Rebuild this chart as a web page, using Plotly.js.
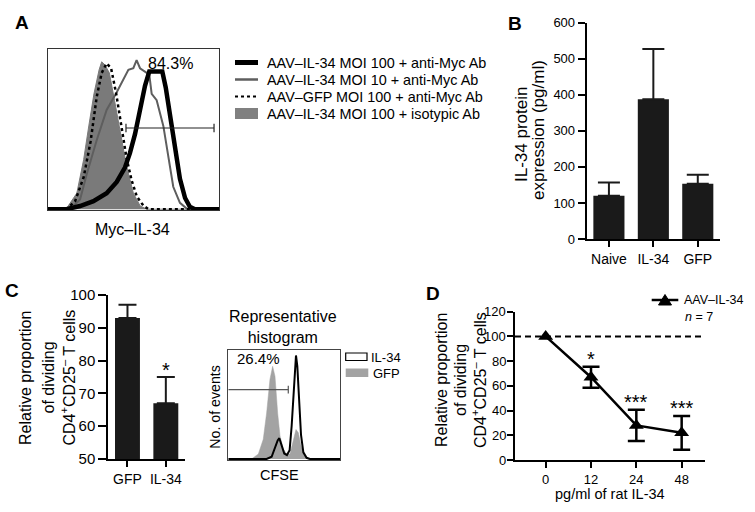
<!DOCTYPE html>
<html><head><meta charset="utf-8">
<script src="https://cdn.plot.ly/plotly-3.0.1.min.js"></script>
<style>html,body{margin:0;padding:0;background:#fff}#chart{width:755px;height:512px}</style>
</head><body><div id="chart"></div>
<script>
// ---------- Panel A: flow histograms (channel 0-100, % of max) ----------
const aIsoX   = [0, 11, 17, 21, 24, 27, 30, 31.5, 33.5, 36, 39, 43, 46, 50, 54, 58, 100];
const aIsoY   = [0, 0.5, 10, 31, 52, 72, 87, 92, 90, 85, 68, 43, 27, 10, 2, 0, 0];
const aGfpX   = [0, 11, 16, 21, 25, 28.6, 31.5, 34.4, 37, 40, 43, 46, 49, 52, 56, 59, 100];
const aGfpY   = [0, 0, 5, 20, 42, 70, 85, 91, 88, 72, 52, 32, 18, 8, 2, 0, 0];
const aMoi10X = [0, 13, 18.9, 22.8, 28.6, 34.4, 40.3, 44.2, 47.1, 50, 51.9, 53.9, 56.8, 59.3, 60.7, 63.6, 67.5, 70.4, 73.3, 77.2, 81.1, 85, 100];
const aMoi10Y = [0, 0, 6, 22, 43, 62, 73, 81, 87, 88, 93, 88, 86, 84, 72, 68, 52, 33, 14, 4, 0.4, 0, 0];
const aMoi100X = [0, 11, 18.9, 26.7, 34.4, 40.3, 45.1, 48, 51, 53.9, 56.8, 59.3, 63.6, 66.9, 68.9, 71.4, 74.3, 77.2, 80.2, 83, 86, 100];
const aMoi100Y = [0, 0, 2, 5, 10, 17, 26, 35, 47, 62, 77, 86, 86, 86, 76, 58, 37, 19, 7, 1.5, 0, 0];
const aGate = {x0: 45.7, x1: 97.1, y: 50.7};
const aLegend = ["AAV\u2013IL-34 MOI 100 + anti-Myc Ab", "AAV\u2013IL-34 MOI 10 + anti-Myc Ab",
                 "AAV\u2013GFP MOI 100 + anti-Myc Ab", "AAV\u2013IL-34 MOI 100 + isotypic Ab"];

// ---------- Panel B ----------
const bCats = ["Naive", "IL-34", "GFP"];
const bVals = [120, 388, 153];
const bErr  = [37, 139, 25];

// ---------- Panel C (bars) ----------
const cCats = ["GFP", "IL-34"];
const cVals = [93, 67];
const cErr  = [4, 8];
const cStars = ["", "*"];

// ---------- Panel C (CFSE histogram) ----------
const cGfpX = [0, 20.9, 26.9, 31.3, 34.3, 37.3, 39.7, 41.8, 44.2, 46.3, 49.3, 52.2, 55.2, 58.2, 60.6, 62.7, 65.1, 68.1, 71.6, 100];
const cGfpY = [0, 0, 4.5, 18, 42, 73, 85, 76, 42, 21, 9, 4.5, 4.5, 18, 27, 24, 12, 3, 0, 0];
const cIlX  = [0, 34.3, 38.8, 41.8, 44.2, 45.7, 47.8, 50.1, 52.5, 54.9, 56.7, 58.2, 59.7, 60.6, 61.8, 63.3, 65.1, 67.2, 70.1, 73.1, 100];
const cIlY  = [0, 0, 2, 10, 17, 19, 12, 5, 3.5, 8, 30, 60, 88, 95, 85, 55, 22, 6, 1, 0, 0];
const cGate = {x0: 0, x1: 53.7, y: 63.6};

// ---------- Panel D ----------
const dDoses = ["0", "12", "24", "48"];
const dVals  = [100, 67, 28, 22];
const dErr   = [0, 8.5, 12.7, 13.7];
const dStars = ["", "*", "***", "***"];
const dYTicks = [0, 20, 40, 60, 80, 100, 120];
const dRef   = 100;

const W = 755, H = 512;
const px = x => x / W;
const py = y => 1 - y / H;
const FONT = "Liberation Sans, Arial, Helvetica, sans-serif";
const BAR = "#1a1a1a";

const traces = [
  {x: aIsoX, y: aIsoY, xaxis: "x", yaxis: "y", mode: "lines", fill: "tozeroy",
   fillcolor: "#7a7a7a", line: {color: "#7a7a7a", width: 1}},
  {x: aMoi10X, y: aMoi10Y, xaxis: "x", yaxis: "y", mode: "lines", line: {color: "#5e5e5e", width: 2}},
  {x: aGfpX, y: aGfpY, xaxis: "x", yaxis: "y", mode: "lines", line: {color: "#000", width: 2.5, dash: "dot"}},
  {x: aMoi100X, y: aMoi100Y, xaxis: "x", yaxis: "y", mode: "lines", line: {color: "#000", width: 4.5}},

  {type: "bar", x: bCats, y: bVals, xaxis: "x2", yaxis: "y2", width: 0.7, marker: {color: BAR},
   error_y: {type: "data", symmetric: false, array: bErr, arrayminus: bErr.map(() => 0), color: BAR, thickness: 2, width: 11}},

  {type: "bar", x: cCats, y: cVals, xaxis: "x3", yaxis: "y3", width: 0.65, marker: {color: BAR},
   error_y: {type: "data", symmetric: false, array: cErr, arrayminus: cErr.map(() => 0), color: BAR, thickness: 2, width: 9}},

  {x: cGfpX, y: cGfpY, xaxis: "x4", yaxis: "y4", mode: "lines", fill: "tozeroy",
   fillcolor: "#a3a3a3", line: {color: "#a3a3a3", width: 0.5}},
  {x: cIlX, y: cIlY, xaxis: "x4", yaxis: "y4", mode: "lines", line: {color: "#000", width: 2}},

  {x: dDoses, y: dVals, xaxis: "x5", yaxis: "y5", mode: "lines+markers",
   line: {color: "#000", width: 2.5}, marker: {symbol: "triangle-up", size: 13, color: "#000"}},
  // error bars only where there is an error (dose > 0)
  {x: dDoses.slice(1), y: dVals.slice(1), xaxis: "x5", yaxis: "y5", mode: "markers",
   marker: {size: 1, color: "rgba(0,0,0,0)"},
   error_y: {type: "data", array: dErr.slice(1), color: "#000", thickness: 2.5, width: 8.5}}
];

const axBase = {showgrid: false, zeroline: false, linecolor: "#000", tickcolor: "#000",
                tickfont: {family: FONT, size: 14, color: "#000"}};

const layout = {
  width: W, height: H, margin: {l: 0, r: 0, t: 0, b: 0},
  paper_bgcolor: "#fff", plot_bgcolor: "rgba(0,0,0,0)", showlegend: false, hovermode: false,
  font: {family: FONT, color: "#000"},
  xaxis: Object.assign({}, axBase, {domain: [px(47.7), px(219)], range: [0, 100], anchor: "y",
          showline: true, mirror: true, linecolor: "#333", linewidth: 1, showticklabels: false, ticks: ""}),
  yaxis: Object.assign({}, axBase, {domain: [py(210), py(49)], range: [-0.5, 100], anchor: "x",
          showline: true, mirror: true, linecolor: "#333", linewidth: 1, showticklabels: false, ticks: ""}),

  xaxis2: Object.assign({}, axBase, {domain: [px(586.7), px(720)], type: "category", range: [-0.5, 2.5], anchor: "y2",
          showline: true, linewidth: 2, ticks: "outside", ticklen: 6, tickwidth: 2}),
  yaxis2: Object.assign({}, axBase, {domain: [py(239), py(22.7)], range: [0, 600], dtick: 100, anchor: "x2",
          showline: true, linewidth: 2, ticks: "outside", ticklen: 7, tickwidth: 2,
          tickfont: {family: FONT, size: 13, color: "#000"}}),

  xaxis3: Object.assign({}, axBase, {domain: [px(108.3), px(185)], type: "category", range: [-0.5, 1.5], anchor: "y3",
          showline: true, linewidth: 2, ticks: "outside", ticklen: 6, tickwidth: 2}),
  yaxis3: Object.assign({}, axBase, {domain: [py(459), py(295)], range: [50, 100], dtick: 10, anchor: "x3",
          showline: true, linewidth: 2, ticks: "outside", ticklen: 8, tickwidth: 2,
          tickfont: {family: FONT, size: 15, color: "#000"}}),

  xaxis4: Object.assign({}, axBase, {domain: [px(228.3), px(340)], range: [0, 100], anchor: "y4",
          showline: true, mirror: true, linecolor: "#444", linewidth: 1, showticklabels: false, ticks: ""}),
  yaxis4: Object.assign({}, axBase, {domain: [py(460), py(350)], range: [-1, 100], anchor: "x4",
          showline: true, mirror: true, linecolor: "#444", linewidth: 1, showticklabels: false, ticks: ""}),

  xaxis5: Object.assign({}, axBase, {domain: [px(515), px(705)], type: "category", categoryorder: "array",
          categoryarray: dDoses, range: [-0.677, 3.515], anchor: "y5",
          showline: true, linewidth: 2, ticks: "outside", ticklen: 6, tickwidth: 2,
          tickfont: {family: FONT, size: 13, color: "#000"}}),
  yaxis5: Object.assign({}, axBase, {domain: [py(460), py(311.7)], range: [0, 120], tickmode: "array", tickvals: dYTicks,
          anchor: "x5", showline: true, linewidth: 2, ticks: "outside", ticklen: 6, tickwidth: 2,
          showticklabels: false}),
  shapes: [],
  annotations: []
};

const S = layout.shapes, A = layout.annotations;
function txt(x, y, text, size, opt) {
  A.push(Object.assign({xref: "paper", yref: "paper", x: px(x), y: py(y), text: text, showarrow: false,
    xanchor: "center", yanchor: "middle", font: {family: FONT, size: size, color: "#000"}}, opt || {}));
}
function pline(x0, y0, x1, y1, color, width, dash) {
  S.push({type: "line", xref: "paper", yref: "paper", x0: px(x0), y0: py(y0), x1: px(x1), y1: py(y1),
    line: {color: color, width: width, dash: dash || "solid"}});
}

// Panel letters
txt(21.7, 22, "<b>A</b>", 19);
txt(515, 23, "<b>B</b>", 19);
txt(12, 290, "<b>C</b>", 19);
txt(433, 293, "<b>D</b>", 19);

// Panel A
S.push({type: "line", xref: "x", yref: "y", x0: aGate.x0, x1: aGate.x1, y0: aGate.y, y1: aGate.y, line: {color: "#222", width: 1.2}});
S.push({type: "line", xref: "x", yref: "y", x0: aGate.x0, x1: aGate.x0, y0: aGate.y - 2.7, y1: aGate.y + 2.7, line: {color: "#222", width: 1.2}});
S.push({type: "line", xref: "x", yref: "y", x0: aGate.x1, x1: aGate.x1, y0: aGate.y - 2.7, y1: aGate.y + 2.7, line: {color: "#222", width: 1.2}});
txt(170, 63, "84.3%", 16);
txt(132.7, 229.5, "Myc\u2013IL-34", 16);
const legY = [62.5, 79.5, 96.5, 113.5];
pline(235, legY[0], 258, legY[0], "#000", 5);
pline(235, legY[1], 258, legY[1], "#5e5e5e", 2.5);
pline(235, legY[2], 258, legY[2], "#000", 2, "dot");
S.push({type: "rect", xref: "paper", yref: "paper", x0: px(235), x1: px(258), y0: py(legY[3] + 5.5), y1: py(legY[3] - 5.5),
  fillcolor: "#808080", line: {width: 0}});
aLegend.forEach((t, i) => txt(265, legY[i], t, 14.4, {xanchor: "left"}));

// Panel B y title
txt(521, 135, "IL-34 protein", 17, {textangle: -90});
txt(538, 130, "expression (pg/ml)", 17, {textangle: -90});

// Panel C bars
txt(25, 378, "Relative proportion", 16, {textangle: -90});
txt(47.5, 378, "of dividing", 16, {textangle: -90});
txt(68.5, 378, "CD4<sup>+</sup>CD25<sup>\u2013</sup> T cells", 16, {textangle: -90});
cStars.forEach((s, i) => { if (s) A.push({xref: "x3", yref: "y3", x: i, y: cVals[i] + cErr[i], text: s,
  showarrow: false, yanchor: "bottom", yshift: -6, font: {family: FONT, size: 20, color: "#000"}}); });

// Panel C histogram
txt(282.7, 327, "Representative<br>histogram", 16);
txt(258.3, 358.5, "26.4%", 15);
txt(215, 406.7, "No. of events", 14.2, {textangle: -90});
txt(279.3, 475, "CFSE", 14.5);
S.push({type: "line", xref: "x4", yref: "y4", x0: cGate.x0, x1: cGate.x1, y0: cGate.y, y1: cGate.y, line: {color: "#555", width: 1.2}});
S.push({type: "line", xref: "x4", yref: "y4", x0: cGate.x1, x1: cGate.x1, y0: cGate.y - 3.6, y1: cGate.y + 3.6, line: {color: "#555", width: 1.2}});
S.push({type: "rect", xref: "paper", yref: "paper", x0: px(345.7), x1: px(367), y0: py(360.5), y1: py(353),
  fillcolor: "#fff", line: {color: "#000", width: 1.2}});
S.push({type: "rect", xref: "paper", yref: "paper", x0: px(345.7), x1: px(368.3), y0: py(377), y1: py(368.5),
  fillcolor: "#a3a3a3", line: {width: 0}});
txt(369, 357, "IL-34", 13, {xanchor: "left"});
txt(370.5, 373, "GFP", 13, {xanchor: "left"});

// Panel D
S.push({type: "line", xref: "x5 domain", yref: "y5", x0: 0, x1: 1, y0: dRef, y1: dRef,
  line: {color: "#000", width: 2, dash: "6px,4px"}});
dYTicks.forEach(v => A.push({xref: "x5 domain", yref: "y5", x: 0, y: v, text: String(v), showarrow: false,
  xanchor: "right", yanchor: "middle", xshift: -7, font: {family: FONT, size: 13, color: "#000"}}));
txt(441, 380, "Relative proportion", 16, {textangle: -90});
txt(460, 380, "of dividing", 16, {textangle: -90});
txt(479, 380, "CD4<sup>+</sup>CD25<sup>\u2013</sup> T cells", 16, {textangle: -90});
txt(610, 493.5, "pg/ml of rat IL-34", 14.5);
dStars.forEach((s, i) => { if (s) A.push({xref: "x5", yref: "y5", x: i, y: dVals[i] + dErr[i], text: s,
  showarrow: false, yanchor: "bottom", yshift: -5, font: {family: FONT, size: 20, color: "#000"}}); });
pline(651.7, 300, 678.3, 300, "#000", 2.5);
S.push({type: "path", xref: "paper", yref: "paper",
  path: "M " + px(665) + "," + py(294.5) + " L " + px(671.5) + "," + py(305) + " L " + px(658.5) + "," + py(305) + " Z",
  fillcolor: "#000", line: {color: "#000", width: 1}});
txt(682, 300, "AAV\u2013IL-34", 12.5, {xanchor: "left"});
txt(683, 316.5, "<i>n</i> = 7", 12.5, {xanchor: "left"});

Plotly.newPlot("chart", traces, layout, {staticPlot: true, displayModeBar: false});
</script>
</body></html>
